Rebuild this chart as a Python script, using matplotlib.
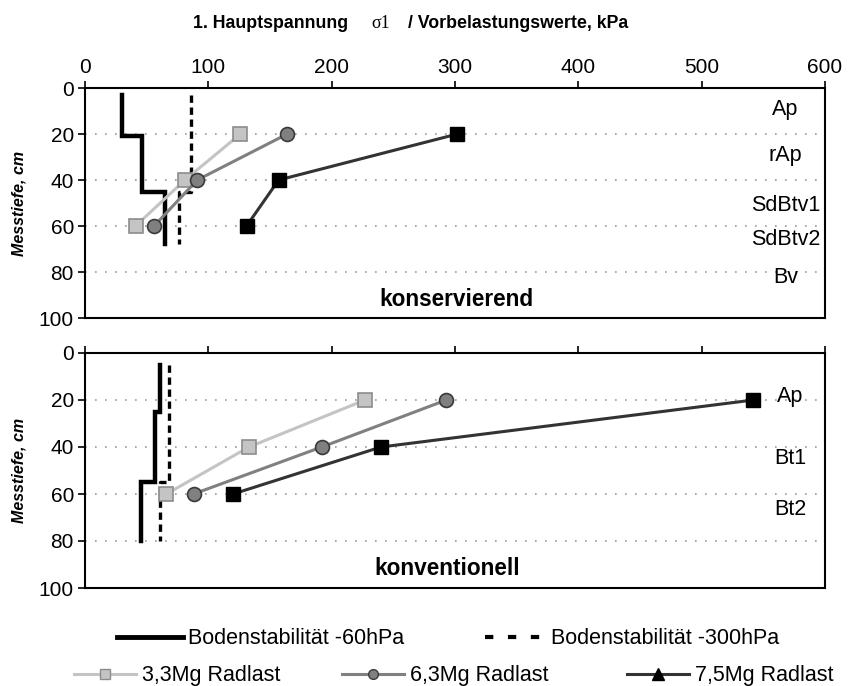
import matplotlib
matplotlib.use("Agg")
import matplotlib.pyplot as plt
from matplotlib.lines import Line2D

plt.rcParams['font.family'] = ['Liberation Sans', 'DejaVu Sans']

# --- DATA ---
depths = [20, 40, 60]

# konservierend
kons_60hpa_x = [30, 30, 46, 46, 65, 65]
kons_60hpa_y = [3, 21, 21, 45, 45, 68]
kons_300hpa_x = [86, 86, 76, 76]
kons_300hpa_y = [3, 45, 45, 68]
kons_33 = [126, 81, 41]
kons_63 = [164, 91, 56]
kons_75 = [302, 157, 131]
kons_horizons = ["Ap", "rAp", "SdBtv1", "SdBtv2", "Bv"]
kons_horizon_depth = [9.5, 29.5, 51, 66, 82.5]

# konventionell
konv_60hpa_x = [61, 61, 57, 57, 45, 45]
konv_60hpa_y = [5, 25, 25, 55, 55, 80]
konv_300hpa_x = [68, 68, 61, 61]
konv_300hpa_y = [5, 55, 55, 80]
konv_33 = [227, 133, 66]
konv_63 = [293, 192, 88]
konv_75 = [542, 240, 120]
konv_horizons = ["Ap", "Bt1", "Bt2"]
konv_horizon_depth = [18.7, 44.7, 66.8]

x_ticks = [0, 100, 200, 300, 400, 500, 600]
y_ticks = [0, 20, 40, 60, 80, 100]

C33_LINE, C33_FACE, C33_EDGE = '#c4c4c4', '#c4c4c4', '#8c8c8c'
C63_LINE, C63_FACE, C63_EDGE = '#808080', '#808080', '#3a3a3a'
C75_LINE, C75_FACE = '#333333', '#000000'

fig = plt.figure(figsize=(8.5, 6.86), dpi=100, facecolor='white')
W, H = 850, 686
def ax_rect(l, t, r, b):
    return [l / W, 1 - b / H, (r - l) / W, (b - t) / H]

ax1 = fig.add_axes(ax_rect(85, 88, 825, 318))
ax2 = fig.add_axes(ax_rect(85, 353, 825, 588))

def draw_panel(ax, x60, y60, x300, y300, s33, s63, s75, hz, hz_d, hz_x, label, label_x, label_y):
    ax.plot(x60, y60, color='black', lw=3.2, solid_joinstyle='miter', zorder=3)
    ax.plot(x300, y300, color='black', lw=2.4, dashes=(2.2, 1.4), zorder=3)
    ax.plot(s33, depths, color=C33_LINE, lw=2.2, marker='s', ms=10,
            mfc=C33_FACE, mec=C33_EDGE, mew=1.2, zorder=4)
    ax.plot(s63, depths, color=C63_LINE, lw=2.2, marker='o', ms=10,
            mfc=C63_FACE, mec=C63_EDGE, mew=1.2, zorder=5)
    ax.plot(s75, depths, color=C75_LINE, lw=2.2, marker='s', ms=10,
            mfc=C75_FACE, mec=C75_FACE, mew=1.0, zorder=6)
    for d in [20, 40, 60, 80]:
        ax.axhline(d, color='#999999', lw=1.2, ls=(0, (1, 5)), zorder=1)
    ax.set_xlim(0, 600)
    ax.set_ylim(100, 0)
    ax.set_xticks(x_ticks)
    ax.set_yticks(y_ticks)
    ax.xaxis.tick_top()
    ax.tick_params(axis='both', direction='out', length=5, width=1.2, labelsize=15, pad=3)
    for s in ax.spines.values():
        s.set_linewidth(1.5)
    ax.set_ylabel('Messtiefe, cm', fontsize=11.5, fontweight='bold', style='italic', labelpad=9)
    for h, d in zip(hz, hz_d):
        ax.text(hz_x, d, h, ha='center', va='center', fontsize=15.5)
    ax.text(label_x, label_y, label, ha='center', va='center', fontsize=16.3, fontweight='bold')

draw_panel(ax1, kons_60hpa_x, kons_60hpa_y, kons_300hpa_x, kons_300hpa_y,
           kons_33, kons_63, kons_75, kons_horizons, kons_horizon_depth, 568,
           'konservierend', 301, 92)
draw_panel(ax2, konv_60hpa_x, konv_60hpa_y, konv_300hpa_x, konv_300hpa_y,
           konv_33, konv_63, konv_75, konv_horizons, konv_horizon_depth, 572,
           'konventionell', 294, 91.5)
ax2.tick_params(axis='x', labeltop=False)

# title
ty = 1 - 23 / H
fig.text(193 / W, ty, '1. Hauptspannung', fontsize=12.8, fontweight='bold', va='center', ha='left')
fig.text(371 / W, ty, 'σ1', fontsize=13, family=['Liberation Serif', 'DejaVu Serif'], va='center', ha='left')
fig.text(408 / W, ty, '/ Vorbelastungswerte, kPa', fontsize=12.8, fontweight='bold', va='center', ha='left')

# legend
def legend_entry(handle, text, x_px, y_px, hl):
    lg = fig.legend([handle], [text], loc='center left', bbox_to_anchor=(x_px / W, 1 - y_px / H),
                    frameon=False, fontsize=15.5, handlelength=hl, handletextpad=0.25,
                    borderpad=0, borderaxespad=0)
    return lg

h60 = Line2D([], [], color='black', lw=3.5)
h300 = Line2D([], [], color='black', lw=3.0, dashes=(2.0, 3.5))
h33 = Line2D([], [], color=C33_LINE, lw=2.2, marker='s', ms=7, mfc=C33_FACE, mec=C33_EDGE)
h63 = Line2D([], [], color=C63_LINE, lw=2.2, marker='o', ms=7, mfc=C63_FACE, mec=C63_EDGE)
h75 = Line2D([], [], color=C75_LINE, lw=2.2, marker='^', ms=8, mfc='black', mec='black')

legend_entry(h60, 'Bodenstabilität -60hPa', 117, 639, 3.05)
legend_entry(h300, 'Bodenstabilität -300hPa', 485, 639, 2.8)
legend_entry(h33, '3,3Mg Radlast', 74, 676, 2.9)
legend_entry(h63, '6,3Mg Radlast', 342, 676, 2.9)
legend_entry(h75, '7,5Mg Radlast', 627, 676, 2.9)

fig.savefig('out.png', dpi=100, facecolor='white')
